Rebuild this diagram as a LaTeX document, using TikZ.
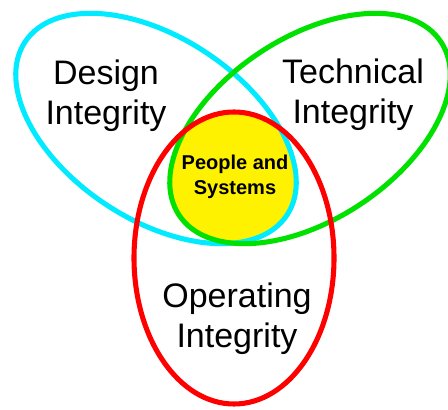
\documentclass[tikz,border=0pt]{standalone}
\usepackage{fontspec}
\setmainfont{Liberation Sans}
\begin{document}
\begin{tikzpicture}[
    x=0.75pt, y=0.75pt,
    ring/.style={line width=3.8pt},
    area/.style={align=center,font=\fontsize{25.5}{30}\selectfont},
    core/.style={align=center,font=\fontsize{15}{18.5}\selectfont\bfseries}
]
    \useasboundingbox (0,0) rectangle (448,409);
    \definecolor{designcol}{RGB}{0,235,255}
    \definecolor{techcol}{RGB}{0,225,0}
    \definecolor{opcol}{RGB}{255,0,0}

    % Triple overlap filled yellow
    \begin{scope}
        \clip (156,280.5) ellipse[x radius=157, y radius=91, rotate=-33.5];
        \clip (310,280.5) ellipse[x radius=157, y radius=91, rotate=33.5];
        \fill[yellow] (234,151) ellipse[x radius=100, y radius=146];
    \end{scope}

    % The three integrity rings
    \draw[ring,designcol] (156,280.5) ellipse[x radius=157, y radius=91, rotate=-33.5];
    \draw[ring,techcol]   (310,280.5) ellipse[x radius=157, y radius=91, rotate=33.5];
    \draw[ring,opcol]     (234,151)   ellipse[x radius=100, y radius=146];

    % Labels
    \node[area] (design) at (106,313) {Design\\Integrity};
    \node[area] (tech)   at (353,314) {Technical\\Integrity};
    \node[area] (oper)   at (237,90)  {Operating\\Integrity};
    \node[core] (people) at (235,232) {People and\\Systems};
\end{tikzpicture}
\end{document}
